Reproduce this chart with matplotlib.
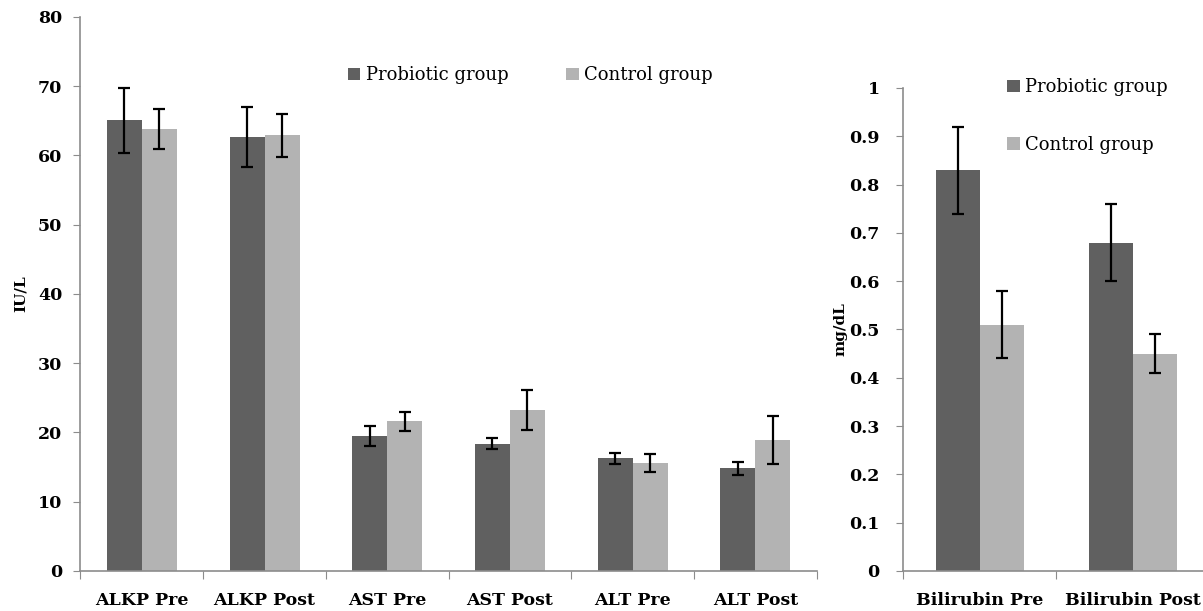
import matplotlib.pyplot as plt
import numpy as np
from matplotlib.patches import Patch

plt.rcParams['font.family'] = ['DejaVu Serif']

# liver enzymes, IU/L
enzyme_labels = ['ALKP Pre', 'ALKP Post', 'AST Pre', 'AST Post', 'ALT Pre', 'ALT Post']
enzyme_probiotic = [65.1, 62.7, 19.5, 18.4, 16.3, 14.8]
enzyme_probiotic_err = [4.7, 4.3, 1.4, 0.8, 0.8, 1.0]
enzyme_control = [63.8, 62.9, 21.6, 23.2, 15.6, 18.9]
enzyme_control_err = [2.9, 3.1, 1.4, 2.9, 1.3, 3.5]

# bilirubin, mg/dL
bili_labels = ['Bilirubin Pre', 'Bilirubin Post']
bili_probiotic = [0.83, 0.68]
bili_probiotic_err = [0.09, 0.08]
bili_control = [0.51, 0.45]
bili_control_err = [0.07, 0.04]

series_names = ['Probiotic group', 'Control group']
dark = '#606060'
light = '#b3b3b3'
axis_grey = '#8c8c8c'
bar_w = 0.285


def draw_panel(ax, labels, prob, prob_err, ctrl, ctrl_err):
    x = np.arange(len(labels))
    ax.bar(x - bar_w / 2, prob, bar_w, color=dark, zorder=2)
    ax.bar(x + bar_w / 2, ctrl, bar_w, color=light, zorder=2)
    ax.errorbar(x - bar_w / 2, prob, yerr=prob_err, fmt='none', ecolor='black',
                elinewidth=1.6, capsize=4, capthick=1.6, zorder=3)
    ax.errorbar(x + bar_w / 2, ctrl, yerr=ctrl_err, fmt='none', ecolor='black',
                elinewidth=1.6, capsize=4, capthick=1.6, zorder=3)

    # boundary ticks, labels in the middle of each category
    ax.set_xticks(np.arange(len(labels) + 1) - 0.5)
    ax.set_xticklabels([])
    ax.set_xticks(x, minor=True)
    ax.set_xticklabels(labels, minor=True, fontsize=12.5, fontweight='bold')
    ax.tick_params(axis='x', which='major', length=6, color=axis_grey, direction='out')
    ax.tick_params(axis='x', which='minor', length=0, pad=15)
    ax.tick_params(axis='y', length=5, color=axis_grey, labelsize=12.5)

    for s in ['top', 'right']:
        ax.spines[s].set_visible(False)
    for s in ['left', 'bottom']:
        ax.spines[s].set_color(axis_grey)
        ax.spines[s].set_linewidth(1.2)


fig = plt.figure(figsize=(12.03, 6.11), dpi=100)

# left panel
ax1 = fig.add_axes([0.0669, 0.0655, 0.612, 0.9067])
ax1.set_ylim(0, 80)
ax1.set_yticks(range(0, 81, 10))
draw_panel(ax1, enzyme_labels, enzyme_probiotic, enzyme_probiotic_err,
           enzyme_control, enzyme_control_err)
ax1.set_xlim(-0.5, len(enzyme_labels) - 0.5)
ax1.tick_params(axis='y', pad=8)
for t in ax1.get_yticklabels():
    t.set_fontweight('bold')
ax1.set_ylabel('IU/L', fontsize=11, fontweight='bold')
ax1.yaxis.set_label_coords(-0.072, 0.5)

# right panel
ax2 = fig.add_axes([0.7509, 0.0655, 0.2491, 0.7905])
ax2.set_ylim(0, 1)
ax2.set_yticks(np.arange(0, 1.01, 0.1))
ax2.set_yticklabels(['0', '0.1', '0.2', '0.3', '0.4', '0.5', '0.6', '0.7', '0.8', '0.9', '1'])
draw_panel(ax2, bili_labels, bili_probiotic, bili_probiotic_err,
           bili_control, bili_control_err)
ax2.set_xlim(-0.5, 1.457)
ax2.tick_params(axis='y', pad=12)
for t in ax2.get_yticklabels():
    t.set_fontweight('bold')
ax2.set_ylabel('mg/dL', fontsize=11, fontweight='bold')
ax2.yaxis.set_label_coords(-0.185, 0.5)

handles = [Patch(facecolor=dark), Patch(facecolor=light)]

fig.legend(handles, series_names, loc='center left', bbox_to_anchor=(0.289, 0.877),
           ncol=2, frameon=False, fontsize=13, handlelength=0.7, handleheight=0.7,
           handletextpad=0.3, columnspacing=3.2, borderpad=0, borderaxespad=0)

fig.legend(handles, series_names, loc='upper left', bbox_to_anchor=(0.837, 0.872),
           ncol=1, frameon=False, fontsize=13, handlelength=0.7, handleheight=0.7,
           handletextpad=0.3, labelspacing=2.2, borderpad=0, borderaxespad=0)

fig.savefig('out.png', dpi=100)
